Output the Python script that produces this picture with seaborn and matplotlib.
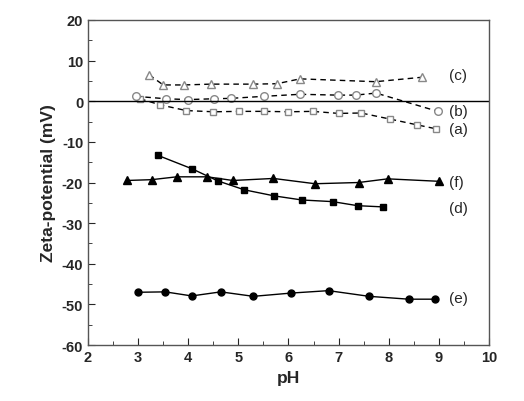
import matplotlib
matplotlib.use("Agg")
import matplotlib.pyplot as plt
import numpy as np
import pandas as pd
import seaborn as sns

# (a) open squares, dashed
ph_a = [3.04, 3.44, 3.96, 4.50, 5.02, 5.52, 6.00, 6.48, 7.00, 7.45, 8.03, 8.56, 8.95]
zeta_a = [0.6, -0.9, -2.3, -2.6, -2.5, -2.5, -2.6, -2.5, -3.0, -2.9, -4.4, -5.8, -6.8]
# (b) open circles, dashed
ph_b = [2.95, 3.56, 3.99, 4.51, 4.85, 5.51, 6.23, 6.98, 7.34, 7.75, 8.98]
zeta_b = [1.2, 0.6, 0.4, 0.6, 0.7, 1.2, 1.7, 1.5, 1.5, 2.0, -2.5]
# (c) open triangles, dashed
ph_c = [3.22, 3.50, 3.92, 4.45, 5.29, 5.77, 6.23, 7.74, 8.67]
zeta_c = [6.5, 4.0, 4.0, 4.2, 4.2, 4.3, 5.5, 4.8, 5.9]
# (d) filled squares, solid
ph_d = [3.39, 4.07, 4.59, 5.12, 5.72, 6.27, 6.88, 7.38, 7.89]
zeta_d = [-13.3, -16.6, -19.6, -21.8, -23.3, -24.3, -24.7, -25.7, -26.0]
# (e) filled circles, solid
ph_e = [3.00, 3.54, 4.07, 4.65, 5.30, 6.05, 6.80, 7.61, 8.40, 8.93]
zeta_e = [-47.0, -46.9, -47.9, -46.9, -48.0, -47.2, -46.6, -48.0, -48.7, -48.7]
# (f) filled triangles, solid
ph_f = [2.77, 3.27, 3.77, 4.38, 4.89, 5.70, 6.53, 7.40, 7.98, 9.00]
zeta_f = [-19.5, -19.3, -18.6, -18.6, -19.5, -19.0, -20.3, -20.0, -19.1, -19.7]

labels = ["(c)", "(b)", "(a)", "(f)", "(d)", "(e)"]
label_y = [6.5, -2.5, -6.8, -19.8, -26.3, -48.5]


def main():
    sns.set_style("ticks", {"xtick.direction": "in", "ytick.direction": "in"})
    plt.rcParams['font.family'] = ['Liberation Sans', 'DejaVu Sans']
    plt.rcParams['axes.unicode_minus'] = False

    fig = plt.figure(figsize=(5.24, 4.02), dpi=100)
    ax = fig.add_axes([0.168, 0.139, 0.765, 0.809])

    open_style = dict(color="black", linestyle=(0, (4, 3)), linewidth=1.0,
                      markersize=5.5, markerfacecolor="white",
                      markeredgecolor="#888888", markeredgewidth=1.0)
    solid_style = dict(color="black", linestyle="-", linewidth=1.0,
                       markersize=6, markerfacecolor="black",
                       markeredgecolor="black", markeredgewidth=1.0)

    sns.lineplot(x=ph_a, y=zeta_a, ax=ax, marker="s", sort=False, estimator=None,
                 **dict(open_style, markersize=5))
    sns.lineplot(x=ph_b, y=zeta_b, ax=ax, marker="o", sort=False, estimator=None, **open_style)
    sns.lineplot(x=ph_c, y=zeta_c, ax=ax, marker="^", sort=False, estimator=None, **open_style)
    sns.lineplot(x=ph_d, y=zeta_d, ax=ax, marker="s", sort=False, estimator=None,
                 **dict(solid_style, markersize=5))
    sns.lineplot(x=ph_e, y=zeta_e, ax=ax, marker="o", sort=False, estimator=None,
                 **dict(solid_style, markersize=5))
    sns.lineplot(x=ph_f, y=zeta_f, ax=ax, marker="^", sort=False, estimator=None, **solid_style)

    ax.axhline(0, color="black", linewidth=1.0)

    for lab, yy in zip(labels, label_y):
        ax.text(9.2, yy, lab, fontsize=11, ha="left", va="center")

    ax.set_xlim(2, 10)
    ax.set_ylim(-60, 20)
    ax.set_xticks(np.arange(2, 11, 1))
    ax.set_yticks(np.arange(-60, 21, 10))
    ax.set_xticks(np.arange(2.5, 10, 1), minor=True)
    ax.set_yticks(np.arange(-55, 20, 10), minor=True)
    ax.tick_params(which="both", direction="in", top=False, right=False)
    ax.tick_params(which="major", length=5, labelsize=10.5)
    ax.tick_params(which="minor", length=3)
    for lab in ax.get_xticklabels() + ax.get_yticklabels():
        lab.set_fontweight("bold")
    for sp in ax.spines.values():
        sp.set_visible(True)
        sp.set_color("#555555")
        sp.set_linewidth(1.0)

    ax.set_xlabel("pH", fontsize=12.5, fontweight="bold")
    ax.set_ylabel("Zeta-potential (mV)", fontsize=12.5, fontweight="bold")
    ax.grid(False)

    fig.savefig("out.png", dpi=100)


if __name__ == "__main__":
    main()
